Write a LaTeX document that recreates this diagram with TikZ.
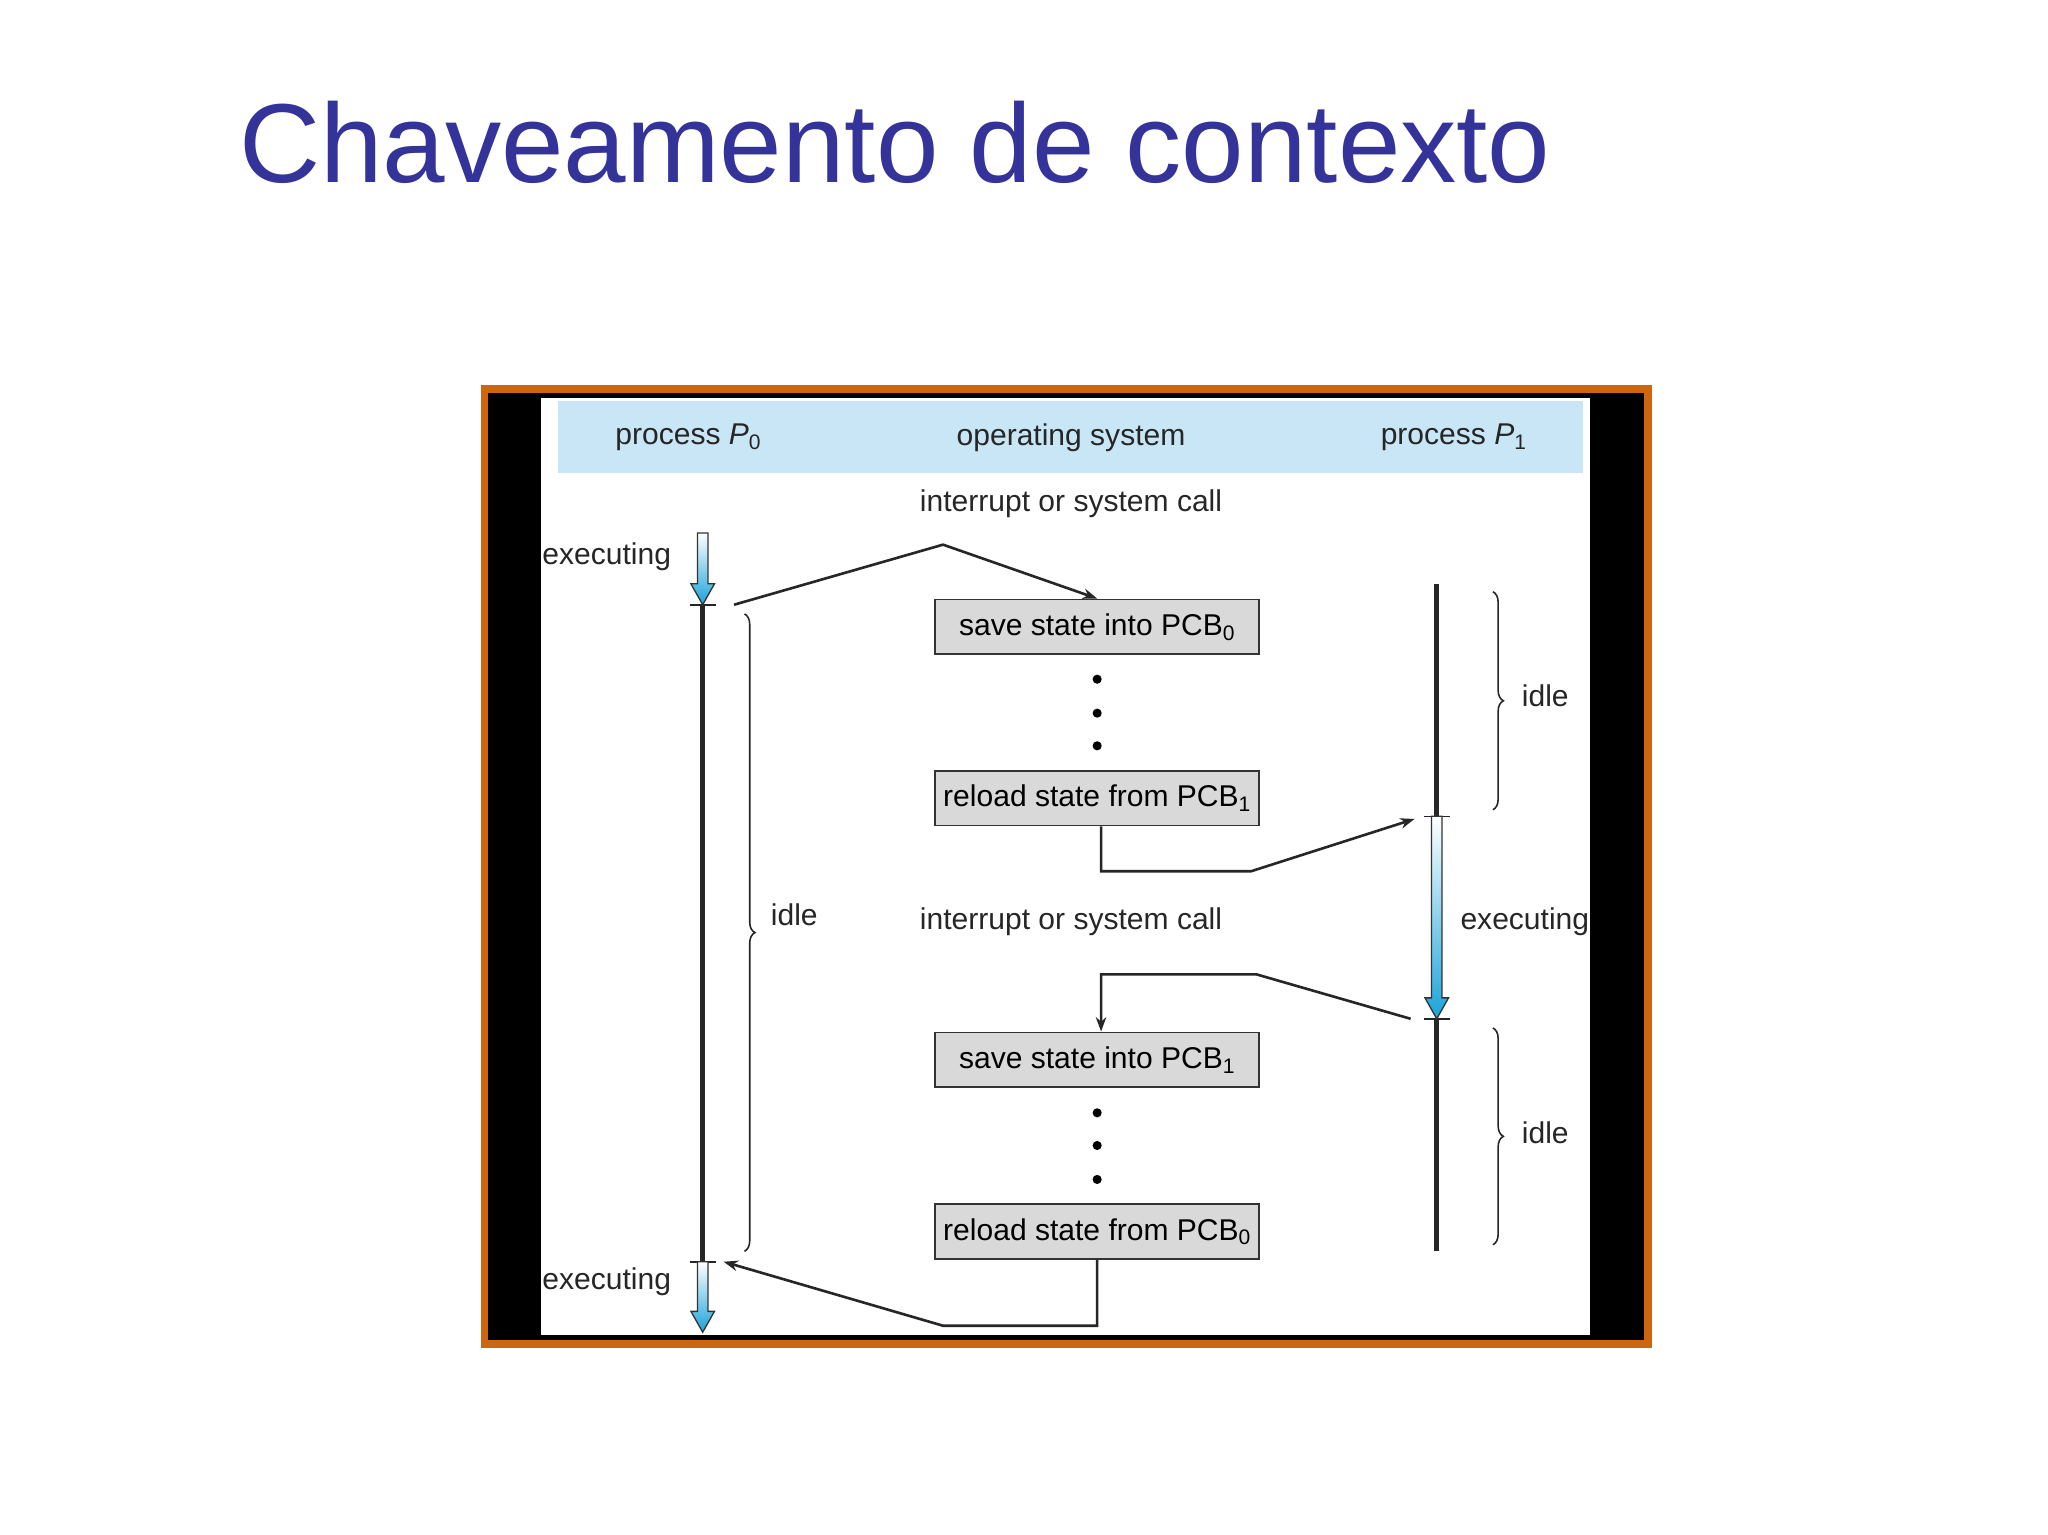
\documentclass[tikz,border=0pt]{standalone}
\usepackage{fontspec}
\setmainfont{Liberation Sans}
\usetikzlibrary{decorations.pathreplacing,arrows.meta}
\definecolor{titleblue}{HTML}{333399}
\definecolor{frameorange}{HTML}{CC6611}
\definecolor{headblue}{HTML}{C8E6F6}
\definecolor{boxgray}{HTML}{D9D9D9}
\definecolor{arrblue}{HTML}{1AA3DA}
\tikzset{
  lbl/.style={font=\fontsize{23}{26}\selectfont, text=black!85, inner sep=0pt},
  pcb/.style={draw=black!80, line width=1.5pt, fill=boxgray, minimum width=248pt, minimum height=42pt, inner sep=0pt, font=\fontsize{23}{26}\selectfont},
  conn/.style={line width=2pt, draw=black!85, -{Stealth[length=11pt,width=8pt]}},
  tl/.style={line width=4pt, draw=black!85},
  tick/.style={line width=1.2pt, draw=black!85},
  brc/.style={decorate, decoration={brace, amplitude=8pt}, line width=1.2pt, draw=black!85},
  dot/.style={circle, fill=black, inner sep=0pt, minimum size=7pt}
}
\newcommand{\bluearrow}[2]{% x, ytop, ybottom given as #1 = x/ytop and #2 = ybottom
}
\begin{document}
\begin{tikzpicture}[x=1pt,y=-1pt]
\useasboundingbox (0,0) rectangle (1568,1175);
\fill[white] (0,0) rectangle (1568,1175);
\node[font=\fontsize{86}{90}\selectfont, text=titleblue, anchor=base west, inner sep=0pt] (title) at (183,140) {Chaveamento de contexto};
% frame
\fill[frameorange] (368,295) rectangle (1265,1032);
\fill[black] (374,301) rectangle (1259,1026);
\fill[white] (414,305) rectangle (1217,1022);
\fill[headblue] (427,307) rectangle (1212,362);
\node[lbl] (h0) at (527,335) {process \textit{P}\textsubscript{0}};
\node[lbl] (hos) at (820,335) {operating system};
\node[lbl] (h1) at (1113,335) {process \textit{P}\textsubscript{1}};
\node[lbl] (int1) at (820,386) {interrupt or system call};
\node[lbl] (int2) at (820,706) {interrupt or system call};
\node[lbl, anchor=east] (ex0a) at (514,426) {executing};
\node[lbl, anchor=east] (ex0b) at (514,981) {executing};
\node[lbl, anchor=west] (ex1) at (1118,706) {executing};
\node[lbl, anchor=west] (idle0) at (590,700) {idle};
\node[lbl, anchor=west] (idle1) at (1165,533) {idle};
\node[lbl, anchor=west] (idle2) at (1165,867) {idle};
% boxes
\node[pcb] (s0) at (840,480) {save state into PCB\textsubscript{0}};
\node[pcb] (r1) at (840,611) {reload state from PCB\textsubscript{1}};
\node[pcb] (s1) at (840,811.5) {save state into PCB\textsubscript{1}};
\node[pcb] (r0) at (840,943) {reload state from PCB\textsubscript{0}};
\foreach \y in {520,546,571,852,877,903} \node[dot] at (840,\y) {};
% timelines
\coordinate (p0a) at (538,463);
\coordinate (p0b) at (538,966);
\coordinate (p1a) at (1100,625);
\coordinate (p1b) at (1100,780);
\draw[tl] (p0a) -- (p0b);
\draw[tl] (1100,447) -- (p1a);
\draw[tl] (p1b) -- (1100,958);
\foreach \c in {p0a,p0b,p1a,p1b} \draw[tick] ([xshift=-10pt]\c) -- ([xshift=10pt]\c);
% blue arrows
\foreach \x/\ya/\yb in {538/408/463, 538/966/1020, 1100/625/780} {
  \shade[top color=white, bottom color=arrblue, draw=black!80, line width=1pt]
    (\x-4,\ya) -- (\x+4,\ya) -- (\x+4,\yb-16) -- (\x+9,\yb-16) -- (\x,\yb) -- (\x-9,\yb-16) -- (\x-4,\yb-16) -- cycle;
}
% braces
\draw[brc] (570,470) -- (570,958);
\draw[brc] (1143,453) -- (1143,620);
\draw[brc] (1143,787) -- (1143,953);
% connectors
\draw[conn] (562,463) -- (722,417) -- (s0.north);
\draw[conn] ([xshift=3pt]r1.south) |- (958,667) -- (1083,627);
\draw[conn] (1080,780) -- (962,746) -- ([xshift=3pt]s1.north |- 746,746) -- ([xshift=3pt]s1.north);
\draw[conn] (r0.south) |- (722,1015) -- (554,966);
\end{tikzpicture}
\end{document}
